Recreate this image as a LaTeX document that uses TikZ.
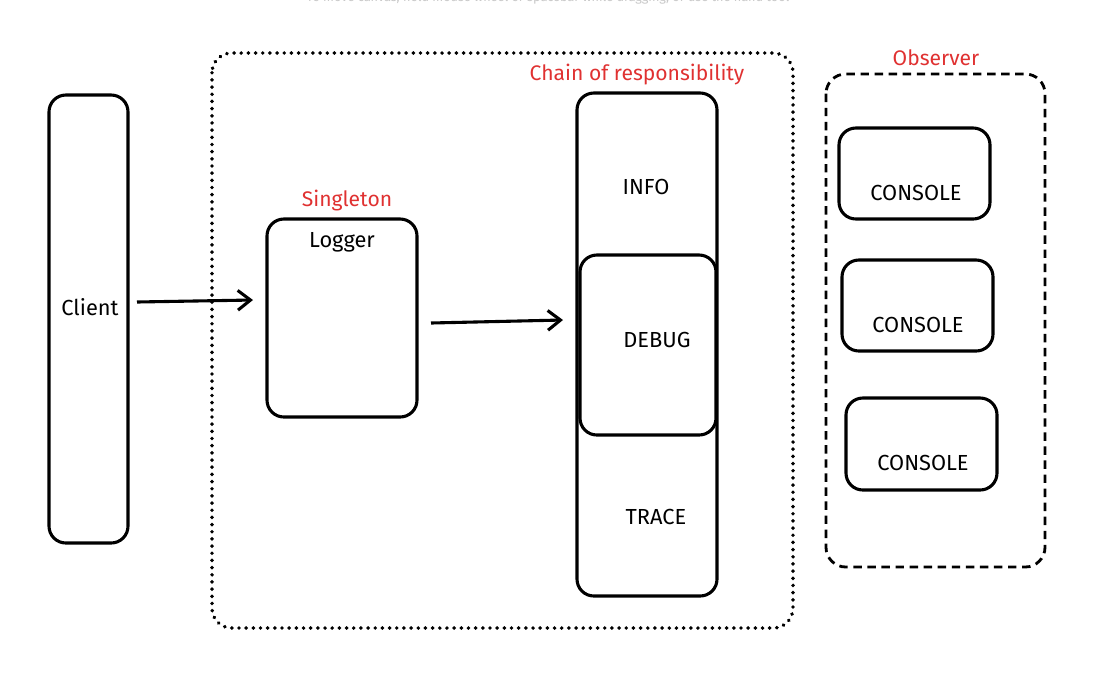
\documentclass[tikz,border=0pt]{standalone}
\usepackage{fontspec}
\setmainfont{Fira Sans}
\usetikzlibrary{arrows.meta}
\definecolor{exred}{HTML}{E03131}
\definecolor{hintgray}{HTML}{C8C8C8}
\tikzset{
  sketchbox/.style={draw=black, line width=2.2pt, rounded corners=12pt},
  lbl/.style={font=\fontsize{15.5}{17}\selectfont, text=black},
  redlbl/.style={font=\fontsize{15}{17}\selectfont, text=exred},
  flow/.style={draw=black, line width=2.2pt, -{Straight Barb[length=9pt,width=14pt,line width=2.2pt]}},
  grp/.style={draw=black, line width=2pt, rounded corners=14pt},
}
\begin{document}
\begin{tikzpicture}[x=0.025cm, y=-0.025cm]
\useasboundingbox (0,0) rectangle (1097,673);
\fill[white] (0,0) rectangle (1097,673);
% faint hint
\node[text=hintgray, font=\fontsize{9}{10}\selectfont] (hint) at (548,-2) {To move canvas, hold mouse wheel or spacebar while dragging, or use the hand tool};
% groups
\draw[grp, dash pattern=on 0.1pt off 5pt, line cap=round, line width=2.7pt] (212,53) rectangle (793,628);
\draw[grp, dash pattern=on 6pt off 4pt] (826,74) rectangle (1045,567);
% client
\draw[sketchbox] (49,95) rectangle (128,543);
\node[lbl] (client) at (90,307) {Client};
% logger
\draw[sketchbox] (267,219) rectangle (417,417);
\node[redlbl] (singleton) at (347,201) {Singleton};
\node[lbl] (logger) at (342,242) {Logger};
\coordinate (loggerW) at (253,300);
\coordinate (clientE) at (137,302);
\coordinate (loggerE) at (431,323);
\coordinate (chainW) at (563,320);
% chain
\node[redlbl] (chainlbl) at (637,75) {Chain of responsibility};
\draw[sketchbox] (577,93) rectangle (717,596);
\draw[sketchbox, fill=white] (580,255) rectangle (716,435);
\node[lbl] (info) at (646,187) {INFO};
\node[lbl] (debug) at (657,340) {DEBUG};
\node[lbl] (trace) at (656,517) {TRACE};
% observer
\node[redlbl] (obslbl) at (936,58) {Observer};
\draw[sketchbox] (839,128) rectangle (990,219);
\draw[sketchbox] (842,260) rectangle (993,351);
\draw[sketchbox] (846,398) rectangle (997,490);
\node[lbl] (c1) at (916,193) {CONSOLE};
\node[lbl] (c2) at (918,325) {CONSOLE};
\node[lbl] (c3) at (923,463) {CONSOLE};
% arrows
\draw[flow] (clientE) -- (loggerW);
\draw[flow] (loggerE) -- (chainW);
\end{tikzpicture}
\end{document}
